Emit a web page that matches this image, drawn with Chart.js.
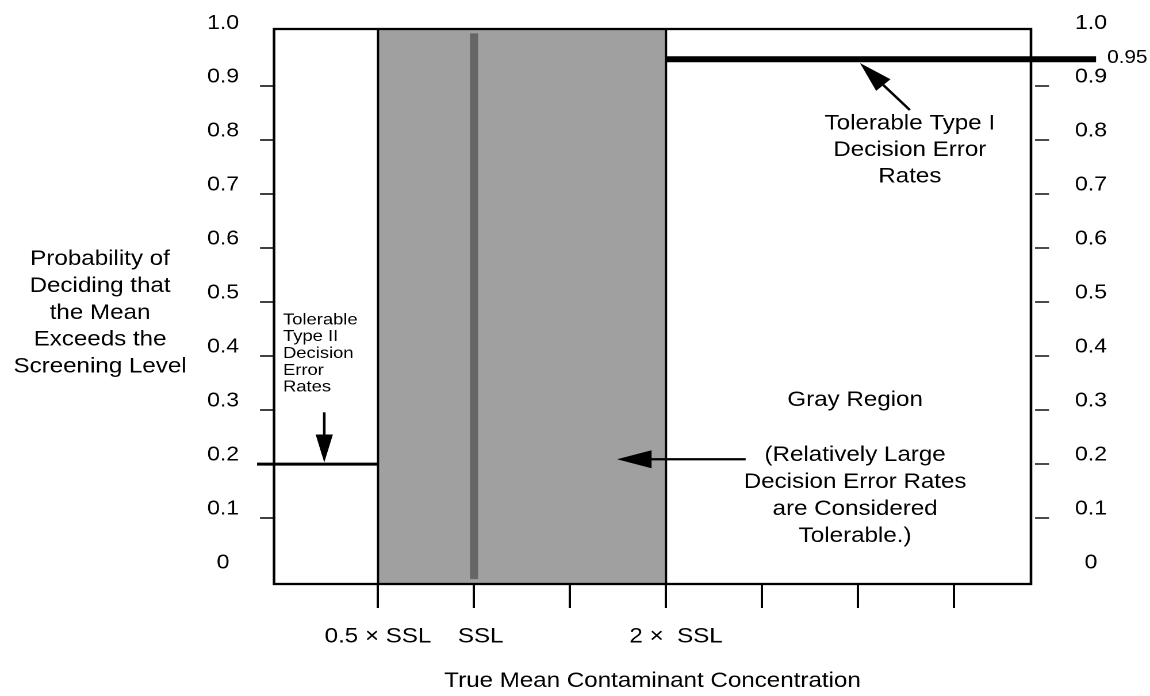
<!DOCTYPE html>
<html>
<head>
<meta charset="utf-8">
<script src="https://cdn.jsdelivr.net/npm/chart.js@4.4.1/dist/chart.umd.min.js"></script>
<style>
  html, body { margin: 0; padding: 0; background: #fff; overflow: hidden; }
  #wrap { width: 1000px; height: 696px; transform: scaleX(1.15); transform-origin: 0 0; }
</style>
</head>
<body>
<div id="wrap"><canvas id="chart"></canvas></div>
<script>
const yTickValues = [0, 0.1, 0.2, 0.3, 0.4, 0.5, 0.6, 0.7, 0.8, 0.9, 1.0];
const yTickLabels = ["0", "0.1", "0.2", "0.3", "0.4", "0.5", "0.6", "0.7", "0.8", "0.9", "1.0"];
const xTickValues = [1, 2, 3, 4, 5, 6, 7];
const xTickLabels = ["0.5 \u00d7 SSL", "  SSL", "", "   2 \u00d7  SSL", "", "", ""];
const grayRegion = [1, 4];
const sslValue = 2;
const sslBar = [-0.013, 0.998];
const typeIIRate = 0.2;
const typeIIRange = [-0.26, 1];
const typeIRate = 0.95;
const typeIRange = [4, 8.48];
const xRange = [-0.083, 7.802];
const yRange = [-0.022, 1.006];
const yTitle = ["Probability of", "Deciding that", "the Mean", "Exceeds the", "Screening Level"];
const xTitle = "True Mean Contaminant Concentration";

const FONT = "'Liberation Sans', Arial, Helvetica, sans-serif";
Chart.defaults.font.family = FONT;
Chart.defaults.color = "#000";

// text notes and arrows, anchored in data units
const notes = [
    {lines: ["Tolerable", "Type II", "Decision", "Error", "Rates"], x: 0.01, y: 0.467, step: 16.8, size: 16, align: "left"},
    {lines: ["Tolerable Type I", "Decision Error", "Rates"], x: 6.54, y: 0.831, step: 26.7, size: 21, align: "center"},
    {lines: ["Gray Region"], x: 5.97, y: 0.318, step: 27, size: 21, align: "center"},
    {lines: ["(Relatively Large", "Decision Error Rates", "are Considered", "Tolerable.)"], x: 5.97, y: 0.217, step: 27, size: 21, align: "center"}
];
const arrows = [
    {from: [0.44, 0.296], to: [0.44, 0.203], head: 28, width: 15},
    {from: [6.54, 0.856], to: [6.02, 0.943], head: 30, width: 17},
    {from: [4.83, 0.209], to: [3.49, 0.209], head: 30, width: 18}
];

function drawArrow(ctx, x1, y1, x2, y2, head, width) {
    var a = Math.atan2(y2 - y1, x2 - x1);
    var bx = x2 - head * Math.cos(a);
    var by = y2 - head * Math.sin(a);
    ctx.beginPath();
    ctx.moveTo(x1, y1);
    ctx.lineTo(bx, by);
    ctx.stroke();
    var px = -Math.sin(a) * width / 2;
    var py = Math.cos(a) * width / 2;
    ctx.beginPath();
    ctx.moveTo(x2, y2);
    ctx.lineTo(bx + px, by + py);
    ctx.lineTo(bx - px, by - py);
    ctx.closePath();
    ctx.fill();
}

const annotate = {
    id: "annotate",
    afterDatasetsDraw(chart) {
        var ctx = chart.ctx;
        var area = chart.chartArea;
        var xs = chart.scales.x;
        var ys = chart.scales.y;
        ctx.save();
        ctx.strokeStyle = "#000";
        ctx.fillStyle = "#000";
        ctx.lineWidth = 2.3;
        ctx.strokeRect(area.left, area.top, area.right - area.left, area.bottom - area.top);

        ctx.lineWidth = 2.3;
        for (var ar of arrows) {
            drawArrow(ctx, xs.getPixelForValue(ar.from[0]), ys.getPixelForValue(ar.from[1]),
                xs.getPixelForValue(ar.to[0]), ys.getPixelForValue(ar.to[1]), ar.head, ar.width);
        }

        ctx.textBaseline = "middle";
        for (var n of notes) {
            ctx.font = n.size + "px " + FONT;
            ctx.textAlign = n.align;
            var x = xs.getPixelForValue(n.x);
            var y = ys.getPixelForValue(n.y);
            n.lines.forEach(function (t, i) { ctx.fillText(t, x, y + i * n.step); });
        }

        ctx.font = "18px " + FONT;
        ctx.textAlign = "left";
        ctx.fillText(String(typeIRate), xs.getPixelForValue(typeIRange[1]) + 9.6, ys.getPixelForValue(typeIRate) - 1);

        ctx.font = "21px " + FONT;
        ctx.textAlign = "center";
        var mid = ys.getPixelForValue(0.48);
        yTitle.forEach(function (t, i) { ctx.fillText(t, 87, mid + (i - 2) * 26.8); });
        ctx.restore();
    }
};

function hideEnds(c) {
    return (c.tick && (c.tick.value === 0 || c.tick.value === 1)) ? "rgba(0,0,0,0)" : "#111";
}

function yAxis(side, width, tickLength, padding) {
    return {
        type: "linear",
        position: side,
        min: yRange[0],
        max: yRange[1],
        afterBuildTicks: function (s) { s.ticks = yTickValues.map(function (v) { return {value: v}; }); },
        afterFit: function (s) { s.width = width; s.paddingTop = 0; s.paddingBottom = 0; },
        border: {display: false},
        grid: {
            drawOnChartArea: false,
            tickLength: tickLength,
            tickWidth: 1.6,
            tickColor: hideEnds,
            tickBorderDash: side === "right" ? [0, 3.5, 12.2, 60] : []
        },
        ticks: {
            crossAlign: "center",
            padding: padding,
            labelOffset: -9,
            font: {size: 20},
            callback: function (v, i) { return yTickLabels[i]; }
        }
    };
}

function flat(xs, y) {
    return xs.map(function (x) { return {x: x, y: y}; });
}

// chart.js paints the last dataset first, so the gray region goes last
new Chart(document.getElementById("chart"), {
    type: "line",
    data: {
        datasets: [
            {
                data: flat(typeIRange, typeIRate),
                borderColor: "#000",
                borderWidth: 6,
                clip: false
            },
            {
                data: flat(typeIIRange, typeIIRate),
                borderColor: "#000",
                borderWidth: 3,
                clip: false
            },
            {
                data: sslBar.map(function (y) { return {x: sslValue, y: y}; }),
                borderColor: "#666666",
                borderWidth: 7
            },
            {
                data: [
                    {x: grayRegion[0], y: yRange[0]}, {x: grayRegion[0], y: yRange[1]},
                    {x: grayRegion[1], y: yRange[1]}, {x: grayRegion[1], y: yRange[0]}
                ],
                borderColor: "#000",
                borderWidth: 2,
                backgroundColor: "#a0a0a0",
                fill: "start"
            }
        ]
    },
    options: {
        responsive: true,
        maintainAspectRatio: false,
        animation: false,
        devicePixelRatio: 2,
        layout: {padding: {top: 29, left: 0, right: 0, bottom: 0}},
        elements: {point: {radius: 0, hoverRadius: 0}, line: {tension: 0}},
        plugins: {legend: {display: false}, tooltip: {enabled: false}},
        scales: {
            x: {
                type: "linear",
                min: xRange[0],
                max: xRange[1],
                afterBuildTicks: function (s) { s.ticks = xTickValues.map(function (v) { return {value: v}; }); },
                afterFit: function (s) { s.height = 112; s.paddingLeft = 0; s.paddingRight = 0; },
                border: {display: false},
                grid: {drawOnChartArea: false, tickLength: 24, tickWidth: 2, tickColor: "#000"},
                ticks: {
                    padding: 16,
                    maxRotation: 0,
                    minRotation: 0,
                    autoSkip: false,
                    font: {size: 21},
                    callback: function (v, i) { return xTickLabels[i]; }
                },
                title: {display: true, text: xTitle, font: {size: 21}, padding: {top: 0, bottom: 2}}
            },
            y: yAxis("left", 238.3, 12.2, 18.2),
            y2: yAxis("right", 103.5, 15.7, 22.6)
        }
    },
    plugins: [annotate]
});
</script>
</body>
</html>
